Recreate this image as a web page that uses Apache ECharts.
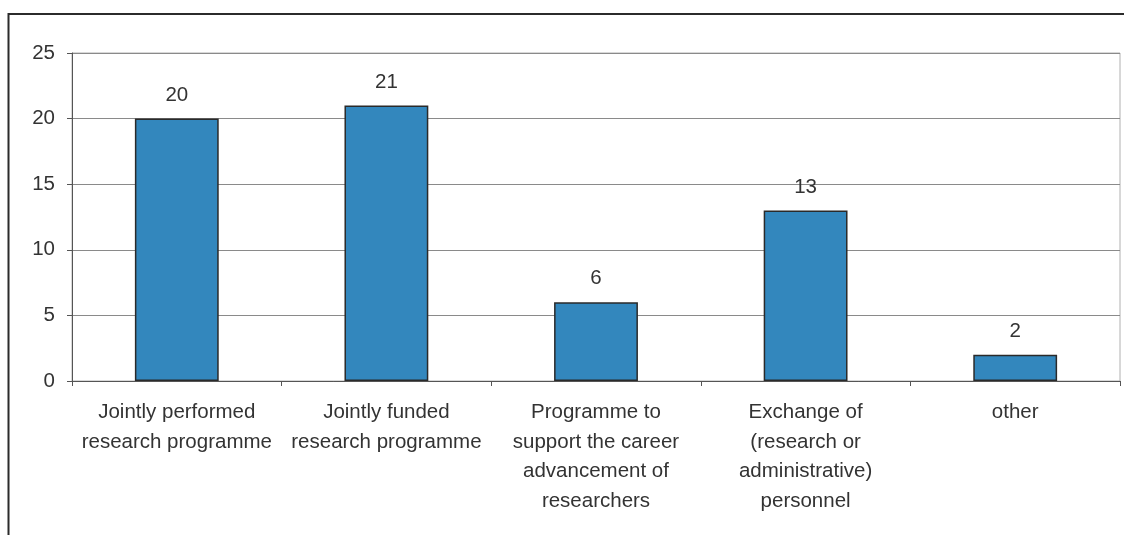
<!DOCTYPE html>
<html>
<head>
<meta charset="utf-8">
<script src="https://cdn.jsdelivr.net/npm/echarts@6/dist/echarts.min.js"></script>
<style>
html,body{margin:0;padding:0;background:#fff;}
#chart{width:1124px;height:535px;}
</style>
</head>
<body>
<div id="chart"></div>
<script>
const categories = [
  "Jointly performed\nresearch programme",
  "Jointly funded\nresearch programme",
  "Programme to\nsupport the career\nadvancement of\nresearchers",
  "Exchange of\n(research or\nadministrative)\npersonnel",
  "other"
];
const values = [20, 21, 6, 13, 2];
const yTicks = { min: 0, max: 25, interval: 5 };

const chart = echarts.init(document.getElementById('chart'), null, {renderer: 'canvas'});
const font = 'Arial, "Liberation Sans", sans-serif';
chart.setOption({
  animation: false,
  backgroundColor: '#fff',
  graphic: [
    { type: 'line', shape: { x1: 8.5, y1: 14, x2: 1124, y2: 14 }, style: { stroke: '#2b2b2b', lineWidth: 2 } },
    { type: 'line', shape: { x1: 8.5, y1: 13, x2: 8.5, y2: 535 }, style: { stroke: '#2b2b2b', lineWidth: 2 } }
  ],
  grid: {
    left: 72, right: 4, top: 53, bottom: 154,
    show: true, borderColor: '#b0b0b0', borderWidth: 1, backgroundColor: 'transparent'
  },
  xAxis: {
    type: 'category',
    data: categories,
    axisLine: { show: true, lineStyle: { color: '#555', width: 1 } },
    axisTick: { show: true, length: 5, lineStyle: { color: '#555' } },
    axisLabel: {
      interval: 0, margin: 17, color: '#333', fontSize: 20.5, fontFamily: font,
      lineHeight: 29.5, align: 'center'
    }
  },
  yAxis: {
    type: 'value',
    min: yTicks.min, max: yTicks.max, interval: yTicks.interval,
    axisLine: { show: true, lineStyle: { color: '#555', width: 1 } },
    axisTick: { show: true, length: 5, lineStyle: { color: '#555' } },
    axisLabel: { margin: 17, color: '#333', fontSize: 20.5, fontFamily: font },
    splitLine: { show: true, lineStyle: { color: '#8a8a8a', width: 1 } }
  },
  series: [{
    type: 'bar',
    data: values,
    barWidth: '40%',
    itemStyle: { color: '#3387bd', borderColor: '#2a2a2a', borderWidth: 1.5 },
    label: {
      show: true, position: 'top', distance: 13,
      color: '#333', fontSize: 20.5, fontFamily: font
    }
  }]
});
</script>
</body>
</html>
